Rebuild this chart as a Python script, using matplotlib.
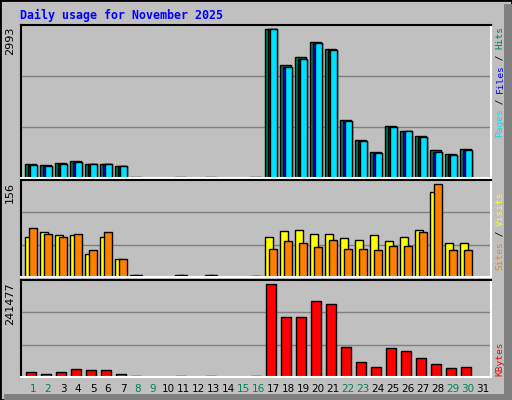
import matplotlib
matplotlib.use("Agg")
import matplotlib.pyplot as plt
from matplotlib.patches import Rectangle
import numpy as np

days = list(range(1, 32))
weekend = [1, 2, 8, 9, 15, 16, 22, 23, 29, 30]
hits = [276, 256, 297, 345, 289, 289, 240, 30, 0, 0, 30, 0, 30, 0, 0, 30,
        2993, 2281, 2444, 2728, 2606, 1162, 757, 533, 1040, 940, 838, 554, 493, 575, 0]
files = [257, 237, 276, 318, 276, 276, 240, 10, 0, 0, 10, 0, 10, 0, 0, 10,
         2993, 2240, 2403, 2708, 2586, 1142, 737, 513, 1020, 940, 818, 533, 473, 554, 0]
pages = [257, 237, 276, 318, 276, 276, 240, 10, 0, 0, 10, 0, 10, 0, 0, 10,
         2993, 2240, 2403, 2708, 2586, 1142, 737, 513, 1020, 940, 818, 533, 473, 554, 0]
visits = [68, 75, 70, 70, 38, 68, 30, 4, 0, 0, 4, 0, 4, 0, 0, 2,
          67, 77, 79, 72, 72, 65, 63, 70, 60, 67, 80, 144, 58, 58, 0]
sites = [82, 72, 67, 72, 45, 75, 31, 4, 0, 0, 4, 0, 4, 0, 0, 2,
         47, 60, 58, 50, 62, 47, 48, 45, 52, 53, 75, 156, 45, 45, 0]
kbytes = [14000, 9000, 14000, 22000, 19000, 17000, 9000, 3000, 0, 0, 3000, 0, 3000, 0, 0, 3000,
          241477, 157000, 157000, 197000, 189000, 78000, 39000, 26000, 76000, 68000, 49000, 33000, 23000, 26000, 0]

BG = "#c0c0c0"
fig = plt.figure(figsize=(5.12, 4.0), dpi=100, facecolor=BG)
W, H = 512, 400

fig.add_artist(Rectangle((0, 0), 1, 1, transform=fig.transFigure, fill=False, edgecolor="black", lw=2))
fig.add_artist(Rectangle((504/W, 0), 8/W, 1 - 4/H, transform=fig.transFigure, color="#808080", lw=0))
fig.add_artist(Rectangle((4/W, 0), 1 - 4/W, 6/H, transform=fig.transFigure, color="#808080", lw=0))

mono = "DejaVu Sans Mono"
fig.text(20/W, 1 - 15/H, "Daily usage for November 2025", color="#0000ff", fontsize=8.4,
         family=mono, weight="bold", va="center", ha="left")

def make_ax(top, bottom, ymax):
    ax = fig.add_axes([21/W, 1 - bottom/H, 470/W, (bottom - top)/H])
    ax.set_facecolor(BG)
    ax.set_xlim(0.2, 31.53)
    ax.set_ylim(0, ymax)
    for y in (ymax/3, 2*ymax/3):
        ax.axhline(y, color="#808080", lw=1, zorder=0)
    ax.set_xticks([]); ax.set_yticks([])
    ax.spines["top"].set_color("black"); ax.spines["left"].set_color("black")
    ax.spines["bottom"].set_color("white"); ax.spines["right"].set_color("white")
    for s in ax.spines.values():
        s.set_linewidth(1.5)
    return ax

d = np.array(days)
ax1 = make_ax(25, 178, 3080)
ax1.bar(d - 0.52, hits, width=0.75, align="edge", color="#00805c", edgecolor="black", lw=1)
ax1.bar(d - 0.36, files, width=0.6, align="edge", color="#0000ff", edgecolor="black", lw=1)
ax1.bar(d - 0.22, pages, width=0.46, align="edge", color="#00e0ff", edgecolor="black", lw=1)

ax2 = make_ax(180, 277, 163.4)
ax2.bar(d - 0.52, visits, width=0.5, align="edge", color="#ffff00", edgecolor="black", lw=1)
ax2.bar(d - 0.25, sites, width=0.5, align="edge", color="#ff8000", edgecolor="black", lw=1)

ax3 = make_ax(280, 377, 252000)
ax3.bar(d - 0.45, kbytes, width=0.66, align="edge", color="#ff0000", edgecolor="black", lw=1)
ax3.set_xticks(days)
ax3.set_xticklabels([str(x) for x in days], fontsize=7.5)
ax3.tick_params(axis="x", length=0, pad=5)
for lab, day in zip(ax3.get_xticklabels(), days):
    lab.set_color("#00805c" if day in weekend else "black")

for txt, top in (("2993", 25), ("156", 180), ("241477", 280)):
    fig.text(10/W, 1 - (top + 2)/H, txt, rotation=90, fontsize=8, va="top", ha="center", color="black")

def side_label(parts, bottom_px):
    y = bottom_px
    for txt, col in parts:
        fig.text(500/W, 1 - y/H, txt, rotation=90, fontsize=6.8, family=mono, color=col,
                 va="bottom", ha="center")
        y -= len(txt) * 5.5

side_label([("Pages", "#00e0ff"), (" / ", "black"), ("Files", "#0000ff"), (" / ", "black"), ("Hits", "#00805c")], 137)
side_label([("Sites", "#ff8000"), (" / ", "black"), ("Visits", "#ffff00")], 270)
side_label([("KBytes", "#ff0000")], 376)

fig.savefig("out.png", dpi=100, facecolor=BG)
